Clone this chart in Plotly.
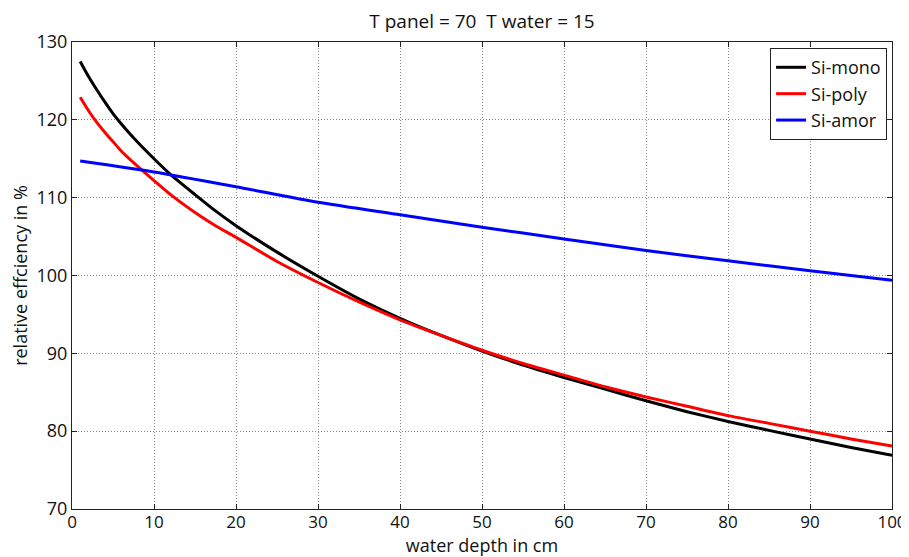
import plotly.graph_objects as go

# Data
x_mono = [1, 2, 3, 4, 5, 6, 7.5, 10, 12, 15, 17.5, 20, 25, 30, 35, 40, 45, 50, 55, 60, 65, 70, 75, 80, 85, 90, 95, 100]
y_mono = [127.5, 125.6, 123.9, 122.3, 120.8, 119.5, 117.7, 115.0, 113.0, 110.4, 108.3, 106.4, 103.0, 99.9, 97.0,
          94.5, 92.3, 90.3, 88.5, 86.9, 85.4, 83.9, 82.5, 81.25, 80.1, 79.0, 77.9, 76.9]

x_poly = [1, 2, 3, 4, 5, 6, 7.5, 10, 12.5, 15, 17.5, 20, 25, 30, 35, 40, 45, 50, 55, 60, 65, 70, 75, 80, 85, 90, 95, 100]
y_poly = [122.9, 121.2, 119.7, 118.4, 117.2, 116.0, 114.5, 112.2, 110.0, 108.1, 106.4, 104.9, 101.8, 99.1, 96.6,
          94.3, 92.3, 90.4, 88.7, 87.2, 85.7, 84.4, 83.2, 82.0, 81.0, 80.0, 79.0, 78.1]

x_amor = [1, 10, 20, 30, 40, 50, 60, 70, 80, 90, 100]
y_amor = [114.7, 113.3, 111.4, 109.4, 107.8, 106.2, 104.7, 103.2, 101.9, 100.6, 99.4]

x_ticks = [0, 10, 20, 30, 40, 50, 60, 70, 80, 90, 100]
y_ticks = [70, 80, 90, 100, 110, 120, 130]

FONT = "Open Sans"

fig = go.Figure()
fig.add_trace(go.Scatter(x=x_mono, y=y_mono, mode="lines", name="Si-mono",
                         line=dict(color="#000000", width=3, shape="spline", smoothing=0.6)))
fig.add_trace(go.Scatter(x=x_poly, y=y_poly, mode="lines", name="Si-poly",
                         line=dict(color="#ff0000", width=3, shape="spline", smoothing=0.6)))
fig.add_trace(go.Scatter(x=x_amor, y=y_amor, mode="lines", name="Si-amor",
                         line=dict(color="#0000ff", width=3, shape="spline", smoothing=0.6)))

axis_common = dict(
    showline=True, linecolor="#222222", linewidth=1, mirror="ticks",
    ticks="inside", ticklen=5, tickcolor="#222222",
    showgrid=True, gridcolor="#8a8a8a", griddash="1px,2px", gridwidth=1,
    zeroline=False, automargin=False,
)

# page body has an 8px default margin, so the figure is sized/offset accordingly
fig.update_layout(
    width=901, height=549,
    paper_bgcolor="white", plot_bgcolor="white",
    margin=dict(l=64, r=17, t=34, b=48),
    font=dict(family=FONT, size=17, color="#111111"),
    title=dict(text="T panel = 70&nbsp; T water = 15", xref="paper", x=0.5, xanchor="center",
               yref="container", y=0.975, yanchor="middle",
               automargin=False, font=dict(family=FONT, size=19, color="#111111")),
    xaxis=dict(range=[0, 100], tickvals=x_ticks, ticktext=[str(v) for v in x_ticks],
               tickfont=dict(family=FONT, size=17, color="#111111"), ticklabelstandoff=-2,
               title=dict(text="water depth in cm", standoff=2, font=dict(family=FONT, size=18)),
               **axis_common),
    yaxis=dict(range=[70, 130], tickvals=y_ticks, ticktext=[str(v) for v in y_ticks],
               tickfont=dict(family=FONT, size=18, color="#111111"),
               title=dict(text="relative effciency in %", standoff=6, font=dict(family=FONT, size=18)),
               **axis_common),
    legend=dict(x=0.994, y=0.987, xanchor="right", yanchor="top",
                bgcolor="white", bordercolor="#222222", borderwidth=1,
                font=dict(family=FONT, size=18, color="#111111"),
                tracegroupgap=0),
    showlegend=True,
)

fig.write_html("out.html")
